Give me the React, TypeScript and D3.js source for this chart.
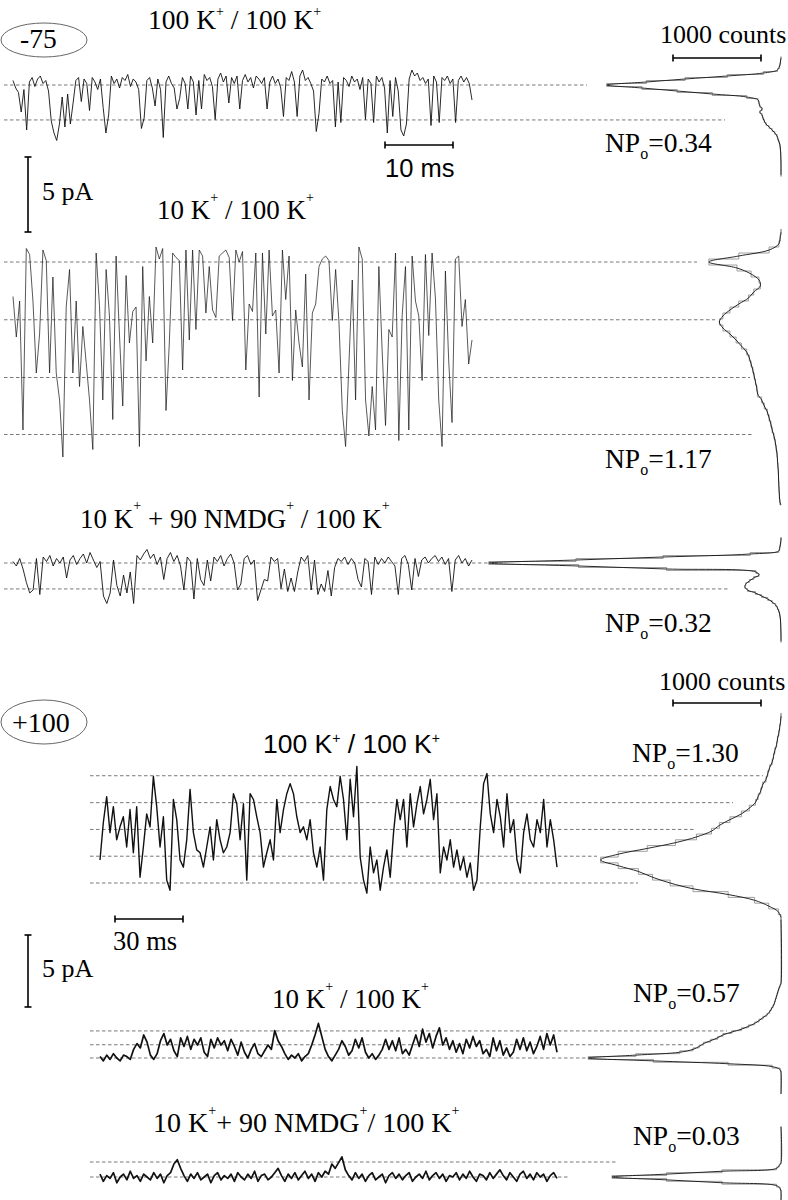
import React from 'react';
import * as d3 from 'd3';

// single channel sweeps, current in pA (0 = all channels closed)
// -75 mV
const trace100K_m75 = [
  0.3, -0.2, -0.5, -1.8, -0.3, -3.0, 0.2, 0.5, -0.1, 0.4, 0.6, 0.1, 0.3, -0.4, -2.4, -3.2, -3.7, -2.6, -0.8, -2.8,
  -0.6, -2.6, -1.2, 0.3, 0.5, -1.1, 0.4, 0.1, -1.7, 0.5, 0.2, -0.3, 0.4, -1.5, -3.2, -2.0, 0.6, 0.1, 0.4, -0.2,
  0.5, 0.3, 0.7, -0.1, 0.4, 0.2, -0.3, -2.9, -2.2, 0.3, 0.5, -0.2, -1.4, 0.4, -0.3, -3.5, 0.2, 0.6, 0.1, -0.2,
  -1.6, -0.9, 0.5, 0.1, -1.6, 0.6, 0.2, -2.0, 0.3, -1.6, 0.7, 0.3, 0.5, -0.1, -2.3, 0.4, 0.8, 0.2, 0.6, -1.2,
  0.5, 0.1, 0.6, -1.6, 0.3, 0.7, 0.2, 0.5, -0.2, 0.6, 0.4, 0.1, 0.5, -1.6, 0.2, 0.6, 0.1, 0.4, -0.2, -2.1,
  0.5, 0.3, 0.9, 0.2, -2.1, 0.6, 1.0, 0.3, 0.5, 0.1, -0.4, -3.1, -1.9, 0.4, 0.2, 0.6, 0.1, 0.3, -2.8, 0.2,
  -2.5, 0.5, 0.3, -0.1, 0.6, 0.2, 0.4, -0.3, 0.5, -2.3, 0.4, 0.1, -2.5, 0.6, 0.2, 0.5, -0.2, -3.2, 0.3, -2.1,
  0.5, -0.4, -3.0, -3.4, -2.6, 0.4, 1.0, 0.6, 0.8, 0.3, 0.5, 0.1, 0.4, -2.7, 0.6, 0.2, -2.5, 0.5, 0.3, 0.6,
  0.1, 0.4, -2.5, 0.3, 0.6, 0.2, 0.5, 0.1, -1.0,
];
const trace10K_m75 = [
  -2.3, -5.0, -2.6, -11.2, 0.9, 0.5, -2.6, -7.4, -4.8, 0.8, 0.1, -7.4, -1.0, -7.4, -9.2, -13.0, -3.0, -0.5, -7.4, -2.6,
  -8.3, -4.3, -6.7, -9.2, -12.5, 0.6, -2.9, -9.2, -0.5, -3.6, -10.5, 0.4, -4.8, -9.6, -0.9, -5.4, -3.3, -3.0, -12.3, -0.3,
  -6.6, -2.3, -5.4, 1.0, 0.2, 0.9, -9.9, -5.4, 0.6, 0.3, 0.1, -7.2, 0.8, -5.2, 0.8, -4.5, 0.8, 0.4, -3.4, -0.3,
  -3.2, -3.7, 0.4, 0.6, 0.8, 0.3, -3.9, 0.8, 0.0, 0.7, -7.2, -2.8, -3.3, 0.6, -9.0, 0.6, -4.8, 0.8, -3.6, -3.2,
  -7.4, 0.8, -2.5, 0.4, -7.9, -3.2, -5.4, -7.0, -0.8, -9.2, -3.4, -2.8, -0.3, 0.2, 0.4, 0.1, -3.9, -0.5, -4.0, -9.9,
  -12.3, -6.8, -1.2, -9.2, 1.0, 0.2, -9.2, -11.6, -8.3, -11.2, -0.3, -6.0, -10.9, -4.5, -5.0, 0.6, -11.9, -3.6, -0.3, -11.2,
  0.4, -2.6, -3.6, -7.9, 0.5, -4.9, 0.6, -2.4, -9.2, -12.3, -0.6, -6.6, -10.7, 0.2, 0.4, -4.3, -2.5, -6.8, -5.2,
];
const traceNMDG_m75 = [
  0.1, -0.2, 0.3, -0.4, -1.3, -2.0, -1.8, 0.3, -2.1, 0.4, 0.1, 0.5, -0.2, 0.3, 0.0, 0.4, -1.0, 0.2, 0.5, -0.1,
  0.3, 0.6, 0.0, 0.7, 0.2, -0.3, 0.1, -2.2, -2.7, -2.0, 0.2, -1.5, -2.2, -0.8, -2.0, -0.6, -2.7, 0.5, 0.2, 0.6,
  0.9, 0.3, 0.6, -0.1, 0.4, -1.1, 0.3, 0.7, 0.1, 0.5, -0.2, -1.8, 0.4, 0.1, -2.4, 0.3, -1.1, -1.5, 0.2, -1.2,
  0.4, 0.1, 0.5, -0.2, 0.3, 0.6, 0.0, -1.8, -1.4, 0.3, 0.5, -0.1, 0.2, -2.5, -1.8, -1.1, -1.2, 0.4, 0.1, 0.3,
  -1.7, -0.4, -1.9, -1.0, -1.9, -0.6, 0.4, 0.1, 0.5, -1.8, 0.2, -2.1, -1.4, -1.9, -0.5, -2.2, -0.3, 0.3, 0.1, 0.4,
  -0.1, 0.3, 0.0, -1.1, -1.6, 0.3, 0.1, -2.1, 0.4, -0.1, 0.3, 0.0, 0.4, 0.1, -0.2, -2.1, 0.3, 0.5, -0.1, -1.8,
  0.3, -0.9, 0.2, 0.4, 0.0, 0.3, 0.5, 0.1, 0.4, -0.1, 0.3, -1.9, 0.2, 0.5, 0.0, 0.3, -0.2, 0.2,
];
// +100 mV
const trace100K_p100 = [
  1.6, 4.2, 6.0, 3.5, 5.3, 3.0, 3.9, 4.6, 2.5, 5.1, 2.1, 5.3, 0.4, 2.5, 4.8, 3.9, 7.4, 5.3, 2.5, 4.6,
  0.2, -0.5, 5.8, 4.4, 1.6, 1.1, 3.0, 6.5, 3.5, 2.3, 2.1, 1.1, 2.5, 3.9, 1.6, 4.4, 3.0, 2.1, 2.5, 3.5,
  6.2, 5.5, 3.0, 5.5, 0.2, 6.2, 5.8, 4.6, 3.5, 1.1, 2.1, 3.0, 1.6, 5.8, 3.5, 5.1, 6.2, 6.9, 6.2, 4.6,
  3.5, 3.9, 3.0, 4.4, 2.1, 1.1, 2.5, 0.2, 5.1, 6.7, 5.8, 5.3, 7.4, 5.8, 3.0, 7.2, 4.6, 8.1, 1.8, 0.2,
  -0.7, 2.5, 0.7, 1.6, -0.5, 1.1, 2.3, 0.4, 3.5, 5.8, 4.4, 5.8, 2.5, 6.2, 3.9, 5.5, 6.7, 4.8, 5.8, 7.2,
  4.4, 6.2, 0.7, 2.5, 1.6, 3.0, 1.1, 2.3, 0.9, 1.8, 0.4, 1.4, -0.5, 0.2, 3.9, 6.9, 7.6, 4.8, 3.5, 5.8,
  4.6, 2.5, 6.2, 3.5, 4.4, 1.6, 0.7, 3.5, 4.8, 3.0, 2.5, 4.4, 3.5, 5.8, 2.5, 4.4, 3.0, 1.1,
];
const trace10K_p100 = [
  0.1, -0.2, 0.2, -0.1, 0.3, 0.0, -0.2, 0.2, 0.1, -0.1, 0.6, 1.0, 0.7, 1.6, 1.1, 0.2, -0.1, 0.3, 1.2, 1.7,
  0.9, 1.3, 0.5, 0.1, 1.4, 0.8, 1.5, 0.6, 1.3, 0.9, 1.4, 0.4, 0.1, 1.3, 0.7, 1.4, 0.9, 1.2, 0.5, 1.3,
  0.8, 0.2, 1.1, 0.4, 0.0, 0.6, 1.0, 0.3, 0.1, 0.5, 0.9, 0.6, 1.9, 1.2, 0.8, 0.3, -0.1, 0.2, 0.0, 0.3,
  -0.2, 0.1, 0.3, 0.9, 1.6, 2.4, 1.5, 0.6, 0.1, -0.2, 0.2, 0.6, 1.2, 0.8, 0.2, 0.5, 1.3, 0.7, 1.4, 0.4,
  0.0, 0.3, -0.1, 0.2, 0.6, 1.3, 0.6, 1.2, 0.5, 1.4, 0.3, 0.6, 0.2, 0.9, 1.6, 0.8, 2.0, 1.1, 1.7, 0.7,
  1.5, 2.1, 0.9, 1.4, 0.6, 1.2, 0.4, 1.0, 0.3, 1.3, 0.7, 1.5, 0.8, 1.2, 0.3, 0.6, 0.1, 1.4, 0.5, 1.2,
  0.2, 0.7, 0.1, 0.4, 1.3, 0.6, 1.4, 0.5, 1.1, 0.3, 0.8, 1.5, 0.6, 1.7, 0.9, 1.6, 0.4,
];
const traceNMDG_p100 = [
  0.2, -0.3, 0.1, -0.1, 0.3, -0.4, 0.0, 0.2, -0.2, 0.4, -0.1, 0.1, -0.3, 0.2, 0.0, -0.2, 0.3, -0.1, 0.2, -0.4,
  0.1, 0.3, 0.9, 1.2, 0.6, 0.1, -0.3, 0.2, -0.1, 0.3, -0.2, 0.0, 0.2, -0.4, 0.1, 0.3, -0.2, 0.1, -0.1, 0.2,
  -0.3, 0.3, 0.0, -0.2, 0.2, -0.1, 0.4, -0.3, 0.1, 0.2, -0.2, 0.0, 0.3, 0.6, 0.1, -0.3, 0.2, -0.1, 0.3, -0.2,
  0.1, 0.4, -0.1, 0.2, -0.3, 0.3, 0.0, 0.4, 0.2, 0.9, 0.6, 1.0, 1.4, 0.5, 0.1, -0.2, 0.3, -0.1, 0.2, -0.3,
  0.1, 0.3, -0.2, 0.0, 0.2, -0.4, 0.1, 0.3, -0.1, 0.2, -0.2, 0.1, 0.3, -0.3, 0.0, 0.2, -0.1, 0.4, -0.2, 0.1,
  0.3, -0.1, 0.2, -0.3, 0.1, 0.0, 0.3, -0.2, 0.2, -0.1, 0.4, 0.0, -0.3, 0.2, 0.1, -0.2, 0.3, -0.1, 0.2, 0.5,
  0.1, -0.2, 0.3, 0.0, -0.3, 0.2, 0.4, -0.1, 0.2, -0.2, 0.3, 0.0, 0.2, -0.3, 0.1, 0.3, -0.1,
];

// current levels for 0..N open channels (pA)
const levels100K_m75 = [0, -2.33];
const levels10K_m75 = [0, -3.85, -7.7, -11.5];
const levelsNMDG_m75 = [0, -1.73];
const levels100K_p100 = [0, 1.86, 3.72, 5.58, 7.45];
const levels10K_p100 = [0, 0.92, 1.88];
const levelsNMDG_p100 = [0, 1.04];

// all-points histograms: first bin centre (pA), bin width (pA), counts
const hist100K_m75 = {
  first: 1.8, width: 0.2,
  counts: [0, 5, 10, 20, 40, 200, 610, 1090, 1530, 1980, 1580, 1180, 780, 390, 260, 250, 240, 215, 240, 215,
    205, 190, 170, 135, 100, 70, 45, 35, 22, 12, 8, 5, 3, 2, 1, 0, 0, 0, 0, 0],
};
const hist10K_m75 = {
  first: 2.0, width: 0.4,
  counts: [0, 10, 25, 135, 480, 820, 500, 340, 250, 235, 310, 370, 480, 580, 660, 700, 660, 580, 510, 450,
    390, 360, 340, 320, 305, 290, 275, 265, 220, 190, 155, 135, 115, 100, 80, 65, 55, 45, 40, 35,
    30, 28, 25, 22, 18, 12],
};
const histNMDG_m75 = {
  first: 1.6, width: 0.2,
  counts: [0, 3, 8, 15, 25, 350, 1340, 2330, 3320, 2300, 1300, 285, 250, 310, 360, 400, 410, 380, 290, 220,
    150, 100, 60, 40, 25, 15, 10, 6, 4, 3, 2, 1, 0, 0, 0],
};
const hist100K_p100 = {
  first: 11.6, width: 0.4,
  counts: [0, 5, 15, 25, 40, 50, 70, 85, 100, 130, 150, 170, 210, 230, 260, 290, 360, 450, 580, 700,
    790, 960, 1200, 1520, 1850, 2050, 1850, 1620, 1460, 1260, 1000, 600, 300, 140, 30, 0],
};
const hist10K_p100 = {
  first: 5.2, width: 0.2,
  counts: [0, 12, 25, 35, 45, 55, 65, 75, 90, 110, 130, 160, 205, 250, 300, 370, 450, 560, 660, 720,
    800, 880, 930, 1000, 1150, 1650, 2190, 1450, 600, 100, 10, 0],
};
const histNMDG_p100 = {
  first: 1.0, width: 0.2,
  counts: [0, 20, 50, 670, 1300, 1920, 1300, 670, 50, 10, 0],
};

const npoValues = ['0.34', '1.17', '0.32', '1.30', '0.57', '0.03'];
const sweepMs = [67.5, 201.6];

const SERIF = '"Liberation Serif", "Times New Roman", serif';
const SANS = '"Liberation Sans", Arial, sans-serif';

const xTop = d3.scaleLinear().domain([0, sweepMs[0]]).range([13, 472]);
const xBot = d3.scaleLinear().domain([0, sweepMs[1]]).range([100, 557]);
const xCounts = d3.scaleLinear().domain([0, 1000]).range([781, 693]);

const panels = [
  { data: trace100K_m75, x: xTop, base: 85, ppa: 15, levels: levels100K_m75, dashFrom: 4, dashTo: [587, 725], hist: hist100K_m75, span: [1.8, -6.0], w: 0.9, npo: npoValues[0], npoAt: [605, 152] },
  { data: trace10K_m75, x: xTop, base: 262, ppa: 15, levels: levels10K_m75, dashFrom: 4, dashTo: [697, 715, 750, 753], hist: hist10K_m75, span: [2.0, -16.2], w: 0.7, npo: npoValues[1], npoAt: [605, 468] },
  { data: traceNMDG_m75, x: xTop, base: 563, ppa: 15, levels: levelsNMDG_m75, dashFrom: 4, dashTo: [490, 728], hist: histNMDG_m75, span: [1.7, -5.2], w: 0.9, npo: npoValues[2], npoAt: [605, 632] },
  { data: trace100K_p100, x: xBot, base: 883, ppa: 14.4, levels: levels100K_p100, dashFrom: 90, dashTo: [638, 597, 695, 733, 763], hist: hist100K_p100, span: [11.6, -2.4], w: 1.4, npo: npoValues[3], npoAt: [632, 762] },
  { data: trace10K_p100, x: xBot, base: 1058, ppa: 14.4, levels: levels10K_p100, dashFrom: 90, dashTo: [587, 693, 727], hist: hist10K_p100, span: [9.6, -2.5], w: 1.7, npo: npoValues[4], npoAt: [633, 1002] },
  { data: traceNMDG_p100, x: xBot, base: 1177, ppa: 14.4, levels: levelsNMDG_p100, dashFrom: 90, dashTo: [570, 618], hist: histNMDG_p100, span: [3.5, -1.6], w: 1.7, npo: npoValues[5], npoAt: [633, 1145] },
];

function Panel({ p }: { p: any }) {
  const y = d3.scaleLinear().domain([0, 1]).range([p.base, p.base - p.ppa]);
  const [t0, t1] = p.x.domain();
  const n = p.data.length;
  const tracePath = d3.line<number>()
    .x((_, i) => p.x(t0 + (i * (t1 - t0)) / (n - 1)))
    .y((d) => y(d))(p.data);

  // histogram, drawn sideways
  const h = p.hist;
  const centers: number[] = h.counts.map((_: number, i: number) => h.first - i * h.width);
  const pts: [number, number][] = h.counts.map((c: number, i: number) => [c, centers[i]]);
  if (p.span[0] > centers[0] + 1e-6) pts.unshift([0, p.span[0]]);
  if (p.span[1] < centers[centers.length - 1] - 1e-6) pts.push([0, p.span[1]]);
  const fitPath = d3.line<[number, number]>()
    .x((d) => xCounts(d[0]))
    .y((d) => y(d[1]))
    .curve(d3.curveCatmullRom.alpha(0.5))(pts);

  let stepPath = `M${xCounts(0)},${y(p.span[0])}`;
  h.counts.forEach((c: number, i: number) => {
    const cy = centers[i];
    stepPath += `L${xCounts(c)},${y(cy + h.width / 2)}L${xCounts(c)},${y(cy - h.width / 2)}`;
  });
  stepPath += `L${xCounts(0)},${y(p.span[1])}`;

  return (
    <g>
      {p.levels.map((lv: number, k: number) => (
        <line key={k} x1={p.dashFrom} x2={p.dashTo[k]} y1={y(lv)} y2={y(lv)}
          stroke="#555" strokeWidth={0.8} strokeDasharray="3.5 2.5" />
      ))}
      <path d={tracePath || ''} fill="none" stroke="#111" strokeWidth={p.w} strokeLinejoin="round" />
      <path d={stepPath} fill="none" stroke="#888" strokeWidth={0.8} />
      <path d={fitPath || ''} fill="none" stroke="#111" strokeWidth={0.9} />
      <text x={p.npoAt[0]} y={p.npoAt[1]} fontFamily={SERIF} fontSize={27.5}>
        NP<tspan fontSize={16} dy={7}>o</tspan><tspan dy={-7}>={p.npo}</tspan>
      </text>
    </g>
  );
}

function HBar({ x, y, len }: { x: number; y: number; len: number }) {
  return (
    <g stroke="#000" strokeWidth={1.6}>
      <line x1={x} x2={x + len} y1={y} y2={y} />
      <line x1={x} x2={x} y1={y - 3.5} y2={y + 3.5} />
      <line x1={x + len} x2={x + len} y1={y - 3.5} y2={y + 3.5} />
    </g>
  );
}

function VBar({ x, y, len }: { x: number; y: number; len: number }) {
  return (
    <g stroke="#000" strokeWidth={1.6}>
      <line x1={x} x2={x} y1={y} y2={y + len} />
      <line x1={x - 3.5} x2={x + 3.5} y1={y} y2={y} />
      <line x1={x - 3.5} x2={x + 3.5} y1={y + len} y2={y + len} />
    </g>
  );
}

export default function App() {
  const ms10 = xTop(10) - xTop(0);
  const ms30 = xBot(30) - xBot(0);
  const c1000 = xCounts(0) - xCounts(1000);
  const pA5top = 5 * panels[0].ppa;
  const pA5bot = 5 * panels[3].ppa;
  const sup = (dy: number) => ({ fontSize: 14, dy });

  return (
    <svg width={788} height={1200} viewBox="0 0 788 1200"
      style={{ position: 'absolute', left: 0, top: 0, background: '#fff' }}>
      <rect width={788} height={1200} fill="#fff" />

      {/* -75 mV block */}
      <ellipse cx={44} cy={40} rx={43} ry={17} fill="none" stroke="#555" strokeWidth={0.9} />
      <text x={20} y={48} fontFamily={SERIF} fontSize={27.5}>-75</text>
      <text x={148} y={29} fontFamily={SERIF} fontSize={27.5}>
        100 K<tspan {...sup(-13)}>+</tspan><tspan dy={13}>{' / 100 K'}</tspan><tspan {...sup(-13)}>+</tspan>
      </text>
      <text x={660} y={43} fontFamily={SERIF} fontSize={26}>1000 counts</text>
      <HBar x={673} y={58} len={c1000} />
      <HBar x={385} y={145} len={ms10} />
      <text x={385} y={177} fontFamily={SANS} fontSize={25.5}>10 ms</text>
      <VBar x={28} y={157} len={pA5top} />
      <text x={42} y={200} fontFamily={SERIF} fontSize={26}>5 pA</text>
      <text x={157} y={219} fontFamily={SERIF} fontSize={27}>
        10 K<tspan {...sup(-17)}>+</tspan><tspan dy={17}>{' / 100 K'}</tspan><tspan {...sup(-17)}>+</tspan>
      </text>
      <text x={80} y={528} fontFamily={SERIF} fontSize={27}>
        10 K<tspan {...sup(-18)}>+</tspan><tspan dy={18}>{' + 90 NMDG'}</tspan><tspan {...sup(-18)}>+</tspan>
        <tspan dy={18}>{' / 100 K'}</tspan><tspan {...sup(-18)}>+</tspan>
      </text>

      {/* +100 mV block */}
      <text x={659} y={690} fontFamily={SERIF} fontSize={26}>1000 counts</text>
      <HBar x={673} y={703} len={c1000} />
      <ellipse cx={44} cy={722} rx={43} ry={22} fill="none" stroke="#555" strokeWidth={0.9} />
      <text x={12} y={732} fontFamily={SERIF} fontSize={28}>+100</text>
      <text x={263} y={753} fontFamily={SANS} fontSize={26.5}>
        100 K<tspan {...sup(-10)}>+</tspan><tspan dy={10}>{' / 100 K'}</tspan><tspan {...sup(-10)}>+</tspan>
      </text>
      <HBar x={115} y={919} len={ms30} />
      <text x={113} y={950} fontFamily={SERIF} fontSize={26.5}>30 ms</text>
      <VBar x={28} y={935} len={pA5bot} />
      <text x={42} y={977} fontFamily={SERIF} fontSize={26}>5 pA</text>
      <text x={272} y={1008} fontFamily={SERIF} fontSize={27}>
        10 K<tspan {...sup(-17)}>+</tspan><tspan dy={17}>{' / 100 K'}</tspan><tspan {...sup(-17)}>+</tspan>
      </text>
      <text x={153} y={1132} fontFamily={SERIF} fontSize={28}>
        10 K<tspan {...sup(-17)}>+</tspan><tspan dy={17}>{'+ 90 NMDG'}</tspan><tspan {...sup(-17)}>+</tspan>
        <tspan dy={17}>{'/ 100 K'}</tspan><tspan {...sup(-17)}>+</tspan>
      </text>

      {panels.map((p, i) => <Panel key={i} p={p} />)}
    </svg>
  );
}
